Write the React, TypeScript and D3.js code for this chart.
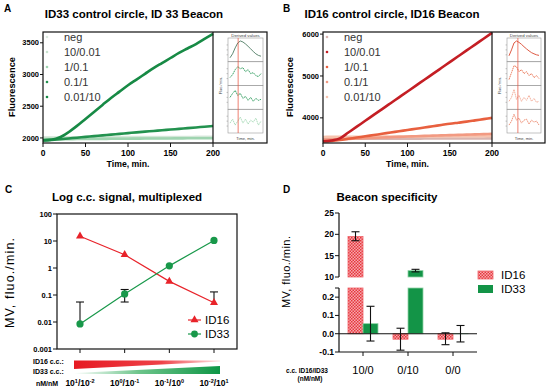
import React from "react";
import * as d3 from "d3";

const FONT = "'Liberation Sans', Arial, Helvetica, sans-serif";

// ---- panels A / B : fluorescence read every 10 min
const times = [0, 10, 20, 30, 40, 50, 60, 70, 80, 90, 100, 110, 120, 130, 140, 150, 160, 170, 180, 190, 200];
const legendNames = ["neg", "10/0.01", "1/0.1", "0.1/1", "0.01/10"];

const aNeg = [2008, 2009, 2010, 2010, 2011, 2011, 2012, 2012, 2012, 2013, 2013, 2013, 2014, 2014, 2014, 2015, 2015, 2015, 2016, 2016, 2016];
const a10 = [1995, 1996, 1996, 1997, 1997, 1998, 1998, 1999, 1999, 2000, 2000, 2000, 2001, 2001, 2001, 2002, 2002, 2002, 2003, 2003, 2003];
const a1 = [1978, 1979, 1980, 1981, 1982, 1983, 1984, 1985, 1986, 1987, 1988, 1989, 1990, 1990, 1991, 1992, 1993, 1994, 1994, 1995, 1996];
const a01 = [1962, 1970, 1980, 1992, 2004, 2016, 2028, 2040, 2052, 2064, 2076, 2088, 2099, 2110, 2121, 2132, 2143, 2154, 2165, 2177, 2188];
const a001 = [1962, 1972, 2010, 2090, 2190, 2300, 2410, 2520, 2630, 2730, 2830, 2920, 3010, 3100, 3180, 3260, 3340, 3410, 3480, 3560, 3640];
const colorsA = ["#dbeadf", "#c9e3cf", "#9fd4b0", "#23924f", "#178a45"];

const bNeg = [3500, 3500, 3501, 3501, 3502, 3502, 3503, 3503, 3504, 3504, 3505, 3505, 3506, 3506, 3507, 3507, 3508, 3508, 3509, 3509, 3510];
const b10 = [3440, 3460, 3510, 3650, 3790, 3930, 4070, 4210, 4350, 4490, 4630, 4770, 4910, 5050, 5190, 5330, 5470, 5610, 5750, 5890, 6030];
const b1 = [3440, 3450, 3470, 3500, 3530, 3560, 3590, 3620, 3650, 3680, 3710, 3740, 3770, 3800, 3830, 3860, 3885, 3910, 3940, 3970, 4000];
const b01 = [3480, 3485, 3490, 3498, 3506, 3514, 3522, 3530, 3538, 3546, 3554, 3562, 3570, 3576, 3582, 3588, 3594, 3600, 3606, 3612, 3618];
const b001 = [3545, 3546, 3547, 3548, 3549, 3550, 3551, 3552, 3553, 3554, 3555, 3556, 3557, 3558, 3559, 3560, 3561, 3562, 3563, 3564, 3565];
const colorsB = ["#d9b5b0", "#c41e24", "#e8603f", "#f29a82", "#f7c3ae"];

// derived-values insets (relative units)
const insA = [
  [0.1, 0.3, 0.6, 0.85, 0.95, 0.9, 0.8, 0.68, 0.55, 0.42, 0.3, 0.22, 0.18],
  [0.3, 0.45, 0.7, 0.85, 0.75, 0.8, 0.6, 0.7, 0.5, 0.55, 0.4, 0.35, 0.5],
  [0.5, 0.7, 0.85, 0.6, 0.7, 0.45, 0.55, 0.35, 0.5, 0.3, 0.45, 0.35, 0.4],
  [0.4, 0.6, 0.3, 0.5, 0.7, 0.4, 0.6, 0.35, 0.55, 0.45, 0.65, 0.3, 0.5],
];
const insAColors = ["#4d7a62", "#2a9a5a", "#2a9a5a", "#a6d9b5"];
const insB = [
  [0.2, 0.5, 0.85, 0.95, 0.88, 0.78, 0.66, 0.55, 0.45, 0.36, 0.3, 0.25, 0.22],
  [0.2, 0.55, 0.9, 0.85, 0.6, 0.7, 0.5, 0.6, 0.4, 0.5, 0.3, 0.4, 0.25],
  [0.3, 0.5, 0.9, 0.4, 0.6, 0.3, 0.5, 0.35, 0.6, 0.3, 0.45, 0.25, 0.3],
  [0.3, 0.5, 0.85, 0.55, 0.65, 0.4, 0.55, 0.6, 0.35, 0.55, 0.45, 0.5, 0.3],
];
const insBColors = ["#d9472f", "#e8714f", "#f2a995", "#ec8a6e"];

// ---- panel C : log MV per concentration pair
const cCats = [0, 1, 2, 3];
const cExpId16 = ["1", "0", "-1", "-2"];
const cExpId33 = ["-2", "-1", "0", "1"];
const cId16 = [15, 3.1, 0.32, 0.052];
const cId33 = [0.0085, 0.11, 1.2, 10.5];
const cId16Hi = [null, null, null, 0.13];
const cId33Lo = [null, 0.055, null, null];
const cId33Hi = [0.055, 0.16, null, null];
const cTicks = [0.001, 0.01, 0.1, 1, 10, 100];
const cTickLabels = ["0.001", "0.01", "0.1", "1", "10", "100"];

// ---- panel D : beacon specificity
const dCats = ["10/0", "0/10", "0/0"];
const dId16 = [19.5, -0.03, -0.03];
const dId16Lo = [18.5, -0.09, -0.06];
const dId16Hi = [20.6, 0.03, 0.005];
const dId33 = [0.055, 11.5, 0.0];
const dId33Lo = [-0.04, 11.2, -0.045];
const dId33Hi = [0.15, 11.8, 0.045];
const dUpperTicks = [10, 15, 20, 25];
const dLowerTicks = [-0.1, 0.0, 0.1, 0.2];

function Inset({ x0, x1, data, colors, redX }) {
  const top = 32;
  const ix0 = x0 + 15, ix1 = x1 - 4, py0 = 38, py1 = 133;
  const rowH = (py1 - py0) / data.length;
  const xs = d3.scaleLinear().domain([0, data[0].length - 1]).range([ix0 + 2, ix1 - 2]);
  return (
    <g>
      <text x={(ix0 + ix1) / 2} y={top + 4.5} fontSize={4.3} textAnchor="middle" fill="#444">Derived values</text>
      {data.map((row, r) => {
        const ys = d3.scaleLinear().domain([0, 1]).range([py0 + (r + 1) * rowH - 2, py0 + r * rowH + 2]);
        const ln = d3.line<number>().x((_, i) => xs(i)).y((d) => ys(d));
        return (
          <g key={r}>
            <rect x={ix0} y={py0 + r * rowH} width={ix1 - ix0} height={rowH} fill="none" stroke="#999" strokeWidth={0.6} />
            {[0.25, 0.5, 0.75].map((t) => (
              <line key={t} x1={ix0 - 1.5} x2={ix0} y1={ys(t)} y2={ys(t)} stroke="#777" strokeWidth={0.4} />
            ))}
            <path d={ln(row) as string} fill="none" stroke={colors[r]} strokeWidth={0.9} strokeDasharray={r === 0 ? "none" : "1.6 0.6"} />
          </g>
        );
      })}
      <line x1={ix0 + redX * (ix1 - ix0)} x2={ix0 + redX * (ix1 - ix0)} y1={py0} y2={py1} stroke="#e8503c" strokeWidth={0.9} opacity={0.8} />
      <text transform={`translate(${x0 + 9},${(py0 + py1) / 2}) rotate(-90)`} fontSize={4} textAnchor="middle" fill="#444">Fluo./min.</text>
      <text x={(ix0 + ix1) / 2} y={139.5} fontSize={4} textAnchor="middle" fill="#444">Time, min.</text>
    </g>
  );
}

function Kinetics({ label, labelX, title, titleX, left, right, frameRight, yDomain, yTicks, yLabelX, series, colors, order, inset, insetColors, redX }) {
  const top = 32, bottom = 143;
  const x = d3.scaleLinear().domain([0, 200]).range([left, right]);
  const y = d3.scaleLinear().domain(yDomain).range([bottom, top]);
  const line = d3.line<number>().x((_, i) => x(times[i])).y((d) => y(d)).curve(d3.curveMonotoneX);
  return (
    <g>
      <text x={labelX} y={12} fontSize={10} fontWeight="bold">{label}</text>
      <text x={titleX} y={18} fontSize={11.5} fontWeight="bold" textAnchor="middle">{title}</text>
      {order.map((i) => (
        <path key={i} d={line(series[i]) as string} fill="none" stroke={colors[i]} strokeWidth={2.6} />
      ))}
      <rect x={left} y={top} width={frameRight - left} height={bottom - top} fill="none" stroke="#111" strokeWidth={1.2} />
      <line x1={right} x2={right} y1={top} y2={bottom} stroke="#111" strokeWidth={1.2} />
      {yTicks.map((t) => (
        <g key={t}>
          <line x1={left - 3} x2={left} y1={y(t)} y2={y(t)} stroke="#111" strokeWidth={1} />
          <text x={left - 4} y={y(t)} dy="0.35em" textAnchor="end" fontSize={7.5} fontWeight="bold">{t}</text>
        </g>
      ))}
      {[0, 50, 100, 150, 200].map((t) => (
        <g key={t}>
          <line x1={x(t)} x2={x(t)} y1={bottom} y2={bottom + 4} stroke="#111" strokeWidth={1} />
          <text x={x(t)} y={bottom + 13} textAnchor="middle" fontSize={8.5} fontWeight="bold">{t}</text>
        </g>
      ))}
      <text x={(left + right) / 2} y={167} textAnchor="middle" fontSize={8.7} fontWeight="bold">Time, min.</text>
      <text transform={`translate(${yLabelX},87) rotate(-90)`} textAnchor="middle" fontSize={9.3} fontWeight="bold">Fluorescence</text>
      {legendNames.map((n, i) => (
        <g key={n}>
          <circle cx={left + 4} cy={37 + i * 15} r={1.3} fill={colors[i]} />
          <text x={left + 21} y={37 + i * 15} dy="0.35em" fontSize={11} fill="#333">{n}</text>
        </g>
      ))}
      <Inset x0={right} x1={frameRight} data={inset} colors={insetColors} redX={redX} />
    </g>
  );
}

function PanelC() {
  const left = 57, right = 237, top = 214, bottom = 349;
  const x = d3.scalePoint<number>().domain(cCats).range([80, 214]);
  const y = d3.scaleLog().domain([0.001, 100]).range([bottom, top]);
  const red = "#e8232a", green = "#18984a";
  const ln = d3.line<number>().x((_, i) => x(cCats[i]) as number).y((d) => y(d));
  const tri = d3.symbol(d3.symbolTriangle, 28)() as string;
  const err = (cx, lo, hi) => (
    <g stroke="#111" strokeWidth={1.1}>
      <line x1={cx} x2={cx} y1={y(lo)} y2={y(hi)} />
      <line x1={cx - 4} x2={cx + 4} y1={y(hi)} y2={y(hi)} />
    </g>
  );
  return (
    <g>
      <defs>
        <linearGradient id="gRed" x1="0" x2="1" y1="0" y2="0">
          <stop offset="0" stopColor="#e61a22" />
          <stop offset="0.6" stopColor="#ee4248" />
          <stop offset="1" stopColor="#fde4e4" />
        </linearGradient>
        <linearGradient id="gGreen" x1="0" x2="1" y1="0" y2="0">
          <stop offset="0" stopColor="#ffffff" />
          <stop offset="0.45" stopColor="#6cc48a" />
          <stop offset="1" stopColor="#0e9646" />
        </linearGradient>
      </defs>
      <text x={5} y={193} fontSize={10} fontWeight="bold">C</text>
      <text x={127} y={201} fontSize={11.5} fontWeight="bold" textAnchor="middle">Log c.c. signal, multiplexed</text>
      <rect x={left} y={top} width={right - left} height={bottom - top} fill="none" stroke="#111" strokeWidth={1.2} />
      {cTicks.map((t, i) => (
        <g key={t}>
          <line x1={left - 4} x2={left} y1={y(t)} y2={y(t)} stroke="#111" strokeWidth={1} />
          <text x={left - 5} y={y(t)} dy="0.35em" textAnchor="end" fontSize={7.5} fontWeight="bold">{cTickLabels[i]}</text>
        </g>
      ))}
      {cCats.map((c) => (
        <line key={c} x1={x(c)} x2={x(c)} y1={bottom} y2={bottom + 4} stroke="#111" strokeWidth={1} />
      ))}
      <text transform={`translate(14,283) rotate(-90)`} textAnchor="middle" fontSize={12.5} textLength={90}>MV,  fluo./min.</text>
      {cCats.map((c, i) => (cId33Hi[i] != null ? <g key={"e33" + i}>{err(x(c), cId33Lo[i] ?? cId33[i], cId33Hi[i])}{cId33Lo[i] != null && <line x1={(x(c) as number) - 4} x2={(x(c) as number) + 4} y1={y(cId33Lo[i])} y2={y(cId33Lo[i])} stroke="#111" strokeWidth={1.1} />}</g> : null))}
      {cCats.map((c, i) => (cId16Hi[i] != null ? <g key={"e16" + i}>{err(x(c), cId16[i], cId16Hi[i])}</g> : null))}
      <path d={ln(cId16) as string} fill="none" stroke={red} strokeWidth={1.2} />
      <path d={ln(cId33) as string} fill="none" stroke={green} strokeWidth={1.2} />
      {cCats.map((c, i) => (
        <path key={"t" + i} d={tri} transform={`translate(${x(c)},${y(cId16[i])})`} fill={red} />
      ))}
      {cCats.map((c, i) => (
        <circle key={"c" + i} cx={x(c)} cy={y(cId33[i])} r={3.6} fill={green} />
      ))}
      <line x1={188} x2={201} y1={320} y2={320} stroke={red} strokeWidth={1.2} />
      <path d={tri} transform="translate(194.5,320)" fill={red} />
      <text x={205} y={320} dy="0.35em" fontSize={11.5}>ID16</text>
      <line x1={188} x2={201} y1={334} y2={334} stroke={green} strokeWidth={1.2} />
      <circle cx={194.5} cy={334} r={3.4} fill={green} />
      <text x={205} y={334} dy="0.35em" fontSize={11.5}>ID33</text>
      <text x={33} y={364} fontSize={7} fontWeight="bold">ID16 c.c.:</text>
      <text x={33} y={374} fontSize={7} fontWeight="bold">ID33 c.c.:</text>
      <polygon points={`${x(0) - 6},360.5 ${x(3) + 6},360.5 ${x(3) + 6},361.5 ${x(0) - 6},369`} fill="url(#gRed)" />
      <polygon points={`${x(0) - 6},373 ${x(3) + 6},366 ${x(3) + 6},374 ${x(0) - 6},374`} fill="url(#gGreen)" />
      <text x={36} y={386} fontSize={7} fontWeight="bold">nM/nM</text>
      {cCats.map((c, i) => (
        <text key={"l" + i} x={x(c)} y={386} textAnchor="middle" fontSize={8.5} fontWeight="bold">
          10<tspan fontSize={5.5} dy={-3.5}>{cExpId16[i]}</tspan>
          <tspan dy={3.5}>/10</tspan>
          <tspan fontSize={5.5} dy={-3.5}>{cExpId33[i]}</tspan>
        </text>
      ))}
    </g>
  );
}

function PanelD() {
  const left = 339, right = 477;
  const yU = d3.scaleLinear().domain([10, 25]).range([277, 213]);
  const yL = d3.scaleLinear().domain([-0.1, 0.25]).range([352, 288]);
  const xb = d3.scaleBand<string>().domain(dCats).range([340.5, 475.5]);
  const xs = d3.scaleBand<string>().domain(["ID16", "ID33"]).range([-15, 15]);
  const bars = (vals, lo, hi, key) =>
    dCats.map((c, i) => {
      const bx = (xb(c) as number) + xb.bandwidth() / 2 + (xs(key) as number);
      const bw = xs.bandwidth();
      const v = vals[i];
      const fill = key === "ID16" ? "url(#chk)" : "#139447";
      const stroke = key === "ID16" ? "#f0646a" : "#8fd3a6";
      const lowTop = yL(Math.min(Math.max(v, 0), 0.25));
      const lowBot = yL(Math.min(v, 0));
      const cx = bx + bw / 2;
      const ys = lo[i] >= 10 ? yU : yL;
      return (
        <g key={key + c}>
          <rect x={bx} y={lowTop} width={bw} height={Math.max(lowBot - lowTop, 0.01)} fill={fill} stroke={stroke} strokeWidth={0.8} />
          {v > 10 && <rect x={bx} y={yU(v)} width={bw} height={yU(10) - yU(v)} fill={fill} stroke={stroke} strokeWidth={0.8} />}
          <g stroke="#111" strokeWidth={1.1}>
            <line x1={cx} x2={cx} y1={ys(lo[i])} y2={ys(hi[i])} />
            <line x1={cx - 4} x2={cx + 4} y1={ys(lo[i])} y2={ys(lo[i])} />
            <line x1={cx - 4} x2={cx + 4} y1={ys(hi[i])} y2={ys(hi[i])} />
          </g>
        </g>
      );
    });
  return (
    <g>
      <defs>
        <pattern id="chk" width="3" height="3" patternUnits="userSpaceOnUse">
          <rect width="3" height="3" fill="#f6aaad" />
          <rect width="1.5" height="1.5" fill="#e6363e" />
          <rect x="1.5" y="1.5" width="1.5" height="1.5" fill="#e6363e" />
        </pattern>
      </defs>
      <text x={283} y={193} fontSize={10} fontWeight="bold">D</text>
      <text x={387} y={201} fontSize={11.5} fontWeight="bold" textAnchor="middle">Beacon specificity</text>
      {bars(dId16, dId16Lo, dId16Hi, "ID16")}
      {bars(dId33, dId33Lo, dId33Hi, "ID33")}
      <line x1={left} x2={left} y1={213} y2={277} stroke="#111" strokeWidth={1.2} />
      <line x1={left} x2={left} y1={288} y2={352} stroke="#111" strokeWidth={1.2} />
      <line x1={left} x2={right} y1={352} y2={352} stroke="#111" strokeWidth={1.2} />
      <line x1={left} x2={right} y1={yL(0)} y2={yL(0)} stroke="#111" strokeWidth={1.1} />
      {dUpperTicks.map((t) => (
        <g key={"u" + t}>
          <line x1={left - 4} x2={left} y1={yU(t)} y2={yU(t)} stroke="#111" strokeWidth={1} />
          <text x={left - 5} y={yU(t)} dy="0.35em" textAnchor="end" fontSize={8.5} fontWeight="bold">{t}</text>
        </g>
      ))}
      <line x1={left - 4} x2={left} y1={288} y2={288} stroke="#111" strokeWidth={1} />
      {dLowerTicks.map((t) => (
        <g key={"l" + t}>
          <line x1={left - 4} x2={left} y1={yL(t)} y2={yL(t)} stroke="#111" strokeWidth={1} />
          <text x={left - 5} y={yL(t)} dy="0.35em" textAnchor="end" fontSize={8.5} fontWeight="bold">{t.toFixed(1)}</text>
        </g>
      ))}
      {dCats.map((c) => {
        const cx = (xb(c) as number) + xb.bandwidth() / 2;
        return (
          <g key={c}>
            <line x1={cx} x2={cx} y1={352} y2={356} stroke="#111" strokeWidth={1} />
            <text x={cx} y={374} textAnchor="middle" fontSize={11}>{c}</text>
          </g>
        );
      })}
      <text transform={`translate(290,272) rotate(-90)`} textAnchor="middle" fontSize={11} textLength={72}>MV,  fluo./min.</text>
      <text x={307} y={373} textAnchor="middle" fontSize={6.5} fontWeight="bold">c.c. ID16/ID33</text>
      <text x={310} y={381} textAnchor="middle" fontSize={6.5} fontWeight="bold">(nM/nM)</text>
      <rect x={478} y={271} width={15} height={8} fill="url(#chk)" stroke="#f0646a" strokeWidth={0.8} />
      <text x={501} y={275} dy="0.35em" fontSize={11.5}>ID16</text>
      <rect x={478} y={285} width={15} height={8} fill="#139447" />
      <text x={501} y={289} dy="0.35em" fontSize={11.5}>ID33</text>
    </g>
  );
}

export default function App() {
  const seriesA = [aNeg, a10, a1, a01, a001];
  const seriesB = [bNeg, b10, b1, b01, b001];
  return (
    <svg width={550} height={389} style={{ position: "absolute", left: 0, top: 0, background: "#fff" }} fontFamily={FONT}>
      <Kinetics label="A" labelX={4} title="ID33 control circle, ID 33 Beacon" titleX={134} left={43} right={213} frameRight={267}
        yDomain={[1920, 3670]} yTicks={[2000, 2500, 3000, 3500]} yLabelX={15} series={seriesA} colors={colorsA}
        order={[0, 1, 2, 3, 4]} inset={insA} insetColors={insAColors} redX={0.29} />
      <Kinetics label="B" labelX={283} title="ID16 control circle, ID16 Beacon" titleX={392} left={323} right={492} frameRight={545}
        yDomain={[3400, 6050]} yTicks={[4000, 5000, 6000]} yLabelX={293} series={seriesB} colors={colorsB}
        order={[0, 4, 3, 2, 1]} inset={insB} insetColors={insBColors} redX={0.32} />
      <PanelC />
      <PanelD />
    </svg>
  );
}
